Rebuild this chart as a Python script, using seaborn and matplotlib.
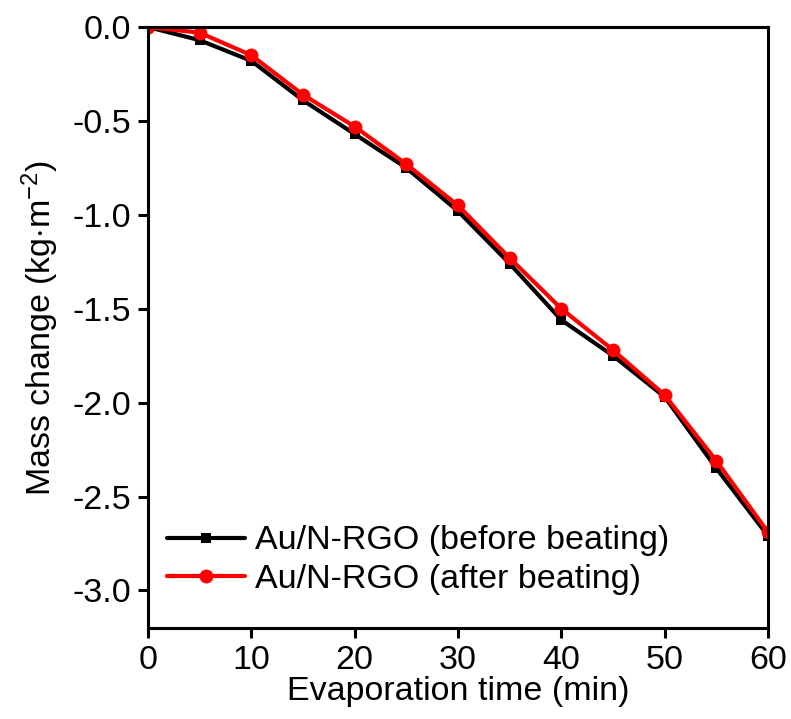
import matplotlib
matplotlib.use("Agg")
import matplotlib.pyplot as plt
import seaborn as sns
import pandas as pd

time_min = [0, 5, 10, 15, 20, 25, 30, 35, 40, 45, 50, 55, 60]
before_beating = [0.0, -0.07, -0.18, -0.39, -0.57, -0.75, -0.98, -1.26, -1.56, -1.75, -1.97, -2.35, -2.71]
after_beating = [0.0, -0.03, -0.15, -0.36, -0.53, -0.73, -0.95, -1.23, -1.50, -1.72, -1.96, -2.31, -2.69]
labels = ["Au/N-RGO (before beating)", "Au/N-RGO (after beating)"]
x_ticks = [0, 10, 20, 30, 40, 50, 60]
y_ticks = [0.0, -0.5, -1.0, -1.5, -2.0, -2.5, -3.0]

sns.set_theme(style="ticks")
plt.rcParams['font.family'] = ['Liberation Sans', 'DejaVu Sans']
plt.rcParams['axes.unicode_minus'] = False
plt.rcParams['mathtext.fontset'] = 'custom'
plt.rcParams['mathtext.rm'] = 'Liberation Sans'
plt.rcParams['mathtext.it'] = 'Liberation Sans'
plt.rcParams['text.color'] = 'black'
plt.rcParams['axes.labelcolor'] = 'black'
plt.rcParams['xtick.color'] = 'black'
plt.rcParams['ytick.color'] = 'black'

FS = 24.5

df_b = pd.DataFrame({"t": time_min, "m": before_beating})
df_a = pd.DataFrame({"t": time_min, "m": after_beating})

fig = plt.figure(figsize=(7.91, 7.19), dpi=100)
ax = fig.add_axes([0.187, 0.1266, 0.784, 0.8358])

sns.lineplot(data=df_b, x="t", y="m", ax=ax, color="black", marker="s",
             markersize=7.5, markeredgewidth=0, linewidth=3, label=labels[0])
sns.lineplot(data=df_a, x="t", y="m", ax=ax, color="#ff0000", marker="o",
             markersize=10, markeredgewidth=0, linewidth=3, label=labels[1])

ax.set_xlim(0, 60)
ax.set_ylim(-3.2, 0)
ax.set_xticks(x_ticks)
ax.set_yticks(y_ticks)
ax.set_yticklabels([f"{v:.1f}" for v in y_ticks])
ax.set_xlabel("Evaporation time (min)", fontsize=FS, labelpad=0)
ax.set_ylabel("Mass change (kg$\\cdot$m$^{\\mathrm{-2}}$)", fontsize=FS, labelpad=8)
ax.tick_params(axis="both", direction="out", length=7, width=2.2, labelsize=FS, pad=5)
for s in ax.spines.values():
    s.set_linewidth(2.2)
    s.set_color("black")
    s.set_visible(True)

leg = ax.legend(loc="lower left", frameon=False, fontsize=FS, handlelength=2.3,
                borderaxespad=0, borderpad=0, bbox_to_anchor=(0.03, 0.055),
                labelspacing=0.22, handletextpad=0.3)

fig.savefig("out.png", dpi=100)
